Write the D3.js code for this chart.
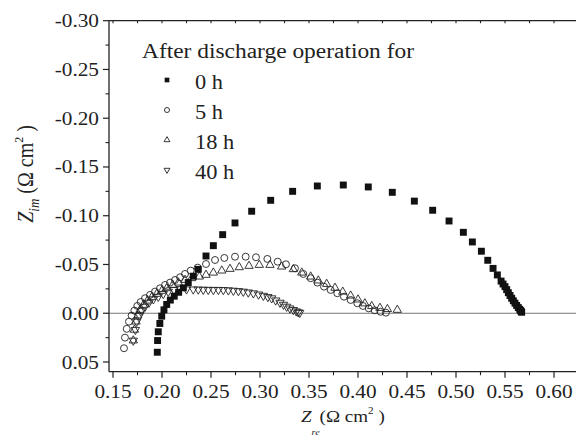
<!DOCTYPE html>
<html>
<head>
<meta charset="utf-8">
<script src="https://cdn.jsdelivr.net/npm/d3@7"></script>
<style>
html,body{margin:0;padding:0;background:#fff;}
svg{display:block;}
</style>
</head>
<body>
<svg id="chart" width="576" height="439"></svg>
<script>
// ---- data (Z_re, Z_im) in Ω cm² ----
const seriesNames = ["0 h", "5 h", "18 h", "40 h"];
const legendTitle = "After discharge operation for";

const data0h = [
[0.1952,0.040],[0.1955,0.028],[0.1962,0.019],[0.1978,0.0105],[0.1997,0.0030],[0.2020,-0.0035],
[0.2048,-0.0090],[0.2085,-0.0135],[0.2125,-0.0175],[0.2170,-0.0215],[0.2218,-0.0260],[0.2268,-0.0315],
[0.2320,-0.0380],[0.2370,-0.0450],[0.2449,-0.0587],[0.2524,-0.0693],[0.2619,-0.0806],[0.2745,-0.0926],
[0.2915,-0.1046],[0.3109,-0.1158],[0.3333,-0.1250],[0.3585,-0.1305],[0.3850,-0.1315],[0.4105,-0.1295],
[0.4350,-0.1240],[0.4575,-0.1150],[0.4762,-0.1056],[0.4929,-0.0946],[0.5075,-0.0830],[0.5167,-0.0731],
[0.5259,-0.0636],[0.5324,-0.0543],[0.5378,-0.0460],[0.5422,-0.0393],[0.5460,-0.0330],[0.5480,-0.0300],
[0.5500,-0.0273],[0.5517,-0.0242],[0.5534,-0.0211],[0.5551,-0.0182],[0.5568,-0.0154],[0.5585,-0.0128],
[0.5602,-0.0103],[0.5619,-0.0080],[0.5636,-0.0058],[0.5650,-0.0040],[0.5660,-0.0027],[0.5665,-0.0018],
[0.5670,-0.0010]
];
const data5h = [
[0.1612,0.0359],[0.1622,0.0250],[0.1640,0.0160],[0.1663,0.0086],[0.1690,0.0024],[0.1718,-0.0027],
[0.1748,-0.0075],[0.1783,-0.0116],[0.1827,-0.0154],[0.1878,-0.0188],[0.1929,-0.0222],[0.1980,-0.0256],
[0.2031,-0.0290],[0.2082,-0.0314],[0.2133,-0.0341],[0.2184,-0.0369],[0.2235,-0.0403],[0.2293,-0.0437],
[0.2364,-0.0468],[0.2449,-0.0505],[0.2541,-0.0546],[0.2636,-0.0567],[0.2745,-0.0580],[0.2854,-0.0580],
[0.2959,-0.0574],[0.3075,-0.0557],[0.3180,-0.0529],[0.3265,-0.0502],[0.3357,-0.0461],[0.3442,-0.0403],
[0.3517,-0.0359],[0.3585,-0.0314],[0.3653,-0.0273],[0.3721,-0.0239],[0.3789,-0.0205],[0.3857,-0.0170],
[0.3925,-0.0136],[0.3993,-0.0103],[0.4050,-0.0075],[0.4110,-0.0050],[0.4170,-0.0030],[0.4230,-0.0015],
[0.4285,-0.0006]
];
const data18h = [
[0.1707,0.0280],[0.1718,0.0170],[0.1735,0.0086],[0.1752,0.0024],[0.1776,-0.0034],[0.1810,-0.0085],
[0.1850,-0.0129],[0.1895,-0.0164],[0.1946,-0.0198],[0.1997,-0.0229],[0.2048,-0.0256],[0.2109,-0.0290],
[0.2167,-0.0314],[0.2235,-0.0341],[0.2303,-0.0359],[0.2381,-0.0375],[0.2449,-0.0393],[0.2524,-0.0416],
[0.2610,-0.0437],[0.2694,-0.0454],[0.2789,-0.0471],[0.2888,-0.0485],[0.2993,-0.0495],[0.3102,-0.0495],
[0.3221,-0.0478],[0.3340,-0.0451],[0.3426,-0.0416],[0.3517,-0.0375],[0.3595,-0.0335],[0.3680,-0.0300],
[0.3765,-0.0260],[0.3844,-0.0220],[0.3925,-0.0180],[0.4000,-0.0140],[0.4070,-0.0100],[0.4140,-0.0072],
[0.4224,-0.0054],[0.4300,-0.0042],[0.4401,-0.0034]
];
const data40h = [
[0.1707,0.0280],[0.1728,0.0170],[0.1742,0.0086],[0.1770,0.0024],[0.1793,-0.0027],[0.1827,-0.0068],
[0.1867,-0.0109],[0.1912,-0.0144],[0.1962,-0.0170],[0.2013,-0.0198],[0.2064,-0.0222],[0.2122,-0.0240],
[0.2184,-0.0250],[0.2250,-0.0246],[0.2319,-0.0245],[0.2370,-0.0244],[0.2421,-0.0242],[0.2472,-0.0241],
[0.2524,-0.0240],[0.2575,-0.0240],[0.2626,-0.0239],[0.2677,-0.0236],[0.2728,-0.0232],[0.2780,-0.0228],
[0.2829,-0.0222],[0.2880,-0.0214],[0.2932,-0.0205],[0.2985,-0.0193],[0.3034,-0.0180],[0.3080,-0.0167],
[0.3119,-0.0154],[0.3160,-0.0132],[0.3204,-0.0109],[0.3240,-0.0088],[0.3272,-0.0068],[0.3305,-0.0050],
[0.3340,-0.0034],[0.3370,-0.0020],[0.3391,-0.0010],[0.3405,-0.0005]
];

const xMajorTicks = [0.15,0.20,0.25,0.30,0.35,0.40,0.45,0.50,0.55,0.60];
const xMinorTicks = [0.175,0.225,0.275,0.325,0.375,0.425,0.475,0.525,0.575];
const yMajorTicks = [-0.30,-0.25,-0.20,-0.15,-0.10,-0.05,0.00,0.05];
const yMinorTicks = [-0.275,-0.225,-0.175,-0.125,-0.075,-0.025,0.025];

// ---- layout ----
const FONT = "'Times New Roman', 'Liberation Serif', Times, serif";
const svg = d3.select("#chart").attr("font-family", FONT);
const L = 109, R = 576, T = 20.7, B = 371.7;
const x = d3.scaleLinear().domain([0.15, 0.60]).range([113, 554]);
const y = d3.scaleLinear().domain([-0.30, 0.05]).range([T, 362]);
const SX = 1.12; // horizontal text stretch of the original
const ink = "#222";

// zero line
svg.append("line").attr("x1", L).attr("x2", R).attr("y1", y(0)).attr("y2", y(0))
  .attr("stroke", "#777").attr("stroke-width", 1.1);

// axes lines
svg.append("line").attr("x1", L).attr("x2", R).attr("y1", B).attr("y2", B).attr("stroke", ink).attr("stroke-width", 1.3);
svg.append("line").attr("x1", L).attr("x2", R).attr("y1", T).attr("y2", T).attr("stroke", ink).attr("stroke-width", 1.3);
svg.append("line").attr("x1", L).attr("x2", L).attr("y1", T).attr("y2", B).attr("stroke", ink).attr("stroke-width", 1.3);

// x ticks (bottom, outward)
const gx = svg.append("g");
xMajorTicks.forEach(v => {
  gx.append("line").attr("x1", x(v)).attr("x2", x(v)).attr("y1", B).attr("y2", B + 6).attr("stroke", ink).attr("stroke-width", 1.2);
  gx.append("text").attr("transform", `translate(${x(v)},398) scale(${SX},1)`)
    .attr("text-anchor", "middle").attr("font-size", 19).attr("fill", ink).text(v.toFixed(2));
});
xMinorTicks.forEach(v => {
  gx.append("line").attr("x1", x(v)).attr("x2", x(v)).attr("y1", B).attr("y2", B + 3.5).attr("stroke", ink).attr("stroke-width", 1.1);
});
// top ticks (inward, small)
xMajorTicks.concat(xMinorTicks).forEach(v => {
  gx.append("line").attr("x1", x(v)).attr("x2", x(v)).attr("y1", T).attr("y2", T + 2.5).attr("stroke", ink).attr("stroke-width", 1.1);
});

// y ticks (left, outward)
const gy = svg.append("g");
yMajorTicks.forEach(v => {
  gy.append("line").attr("x1", L - 6).attr("x2", L).attr("y1", y(v)).attr("y2", y(v)).attr("stroke", ink).attr("stroke-width", 1.2);
  const s = (v < 0 ? "-" : "") + Math.abs(v).toFixed(2);
  gy.append("text").attr("transform", `translate(99,${y(v) + 6.5}) scale(${SX},1)`)
    .attr("text-anchor", "end").attr("font-size", 19).attr("fill", ink).text(s);
});
yMinorTicks.forEach(v => {
  gy.append("line").attr("x1", L - 3.5).attr("x2", L).attr("y1", y(v)).attr("y2", y(v)).attr("stroke", ink).attr("stroke-width", 1.1);
});

// axis titles
const xl = svg.append("text").attr("transform", `translate(301,422) scale(${SX},1)`).attr("font-size", 17).attr("fill", ink);
xl.append("tspan").attr("font-style", "italic").text("Z");
xl.append("tspan").attr("font-style", "italic").attr("font-size", 9).attr("dy", 13).text("re");
xl.append("tspan").attr("dy", -13).text("(Ω cm");
xl.append("tspan").attr("font-size", 10).attr("dy", -8).text("2");
xl.append("tspan").attr("dy", 8).text(" )");

const yl = svg.append("text").attr("transform", `translate(33,174) scale(${SX},1) rotate(-90)`)
  .attr("text-anchor", "middle").attr("font-size", 20).attr("fill", ink);
yl.append("tspan").attr("font-style", "italic").text("Z");
yl.append("tspan").attr("font-style", "italic").attr("font-size", 13).attr("dy", 5).text("im");
yl.append("tspan").attr("dy", -5).text(" (Ω cm");
yl.append("tspan").attr("font-size", 12).attr("dy", -9).text("2");
yl.append("tspan").attr("dy", 9).text(" )");

// ---- markers ----
const plot = svg.append("g");
const sq = d3.symbol(d3.symbolSquare);
const tri = d3.symbol(d3.symbolTriangle);

function drawSeries(arr, kind, size, filled) {
  plot.append("g").selectAll("path").data(arr).join("path")
    .attr("transform", d => `translate(${x(d[0])},${y(d[1])})` + (kind === "down" ? " rotate(180)" : ""))
    .attr("d", () => (kind === "square" ? sq : kind === "circle" ? d3.symbol(d3.symbolCircle) : tri).size(size)())
    .attr("fill", filled ? "#111" : "#fff")
    .attr("fill-opacity", filled ? 1 : 0)
    .attr("stroke", "#222").attr("stroke-width", filled ? 0 : 0.9);
}
drawSeries(data40h, "down", 30, false);
drawSeries(data18h, "up", 30, false);
drawSeries(data5h, "circle", 38, false);
drawSeries(data0h, "square", 48, true);

// ---- legend ----
svg.append("text").attr("x", 142).attr("y", 58).attr("font-size", 20).attr("fill", ink)
  .attr("textLength", 272).attr("lengthAdjust", "spacingAndGlyphs").text(legendTitle);
const legKinds = [["square", 22, true], ["circle", 20, false], ["up", 15, false], ["down", 15, false]];
seriesNames.forEach((n, i) => {
  const cy = 80 + i * 30;
  const k = legKinds[i];
  svg.append("path")
    .attr("transform", `translate(167,${cy})` + (k[0] === "down" ? " rotate(180)" : ""))
    .attr("d", (k[0] === "square" ? sq : k[0] === "circle" ? d3.symbol(d3.symbolCircle) : tri).size(k[1])())
    .attr("fill", k[2] ? "#111" : "none").attr("stroke", "#222").attr("stroke-width", k[2] ? 0 : 0.9);
  svg.append("text").attr("transform", `translate(195,${cy + 8.5}) scale(${SX},1)`)
    .attr("font-size", 20).attr("fill", ink).text(n);
});
</script>
</body>
</html>
